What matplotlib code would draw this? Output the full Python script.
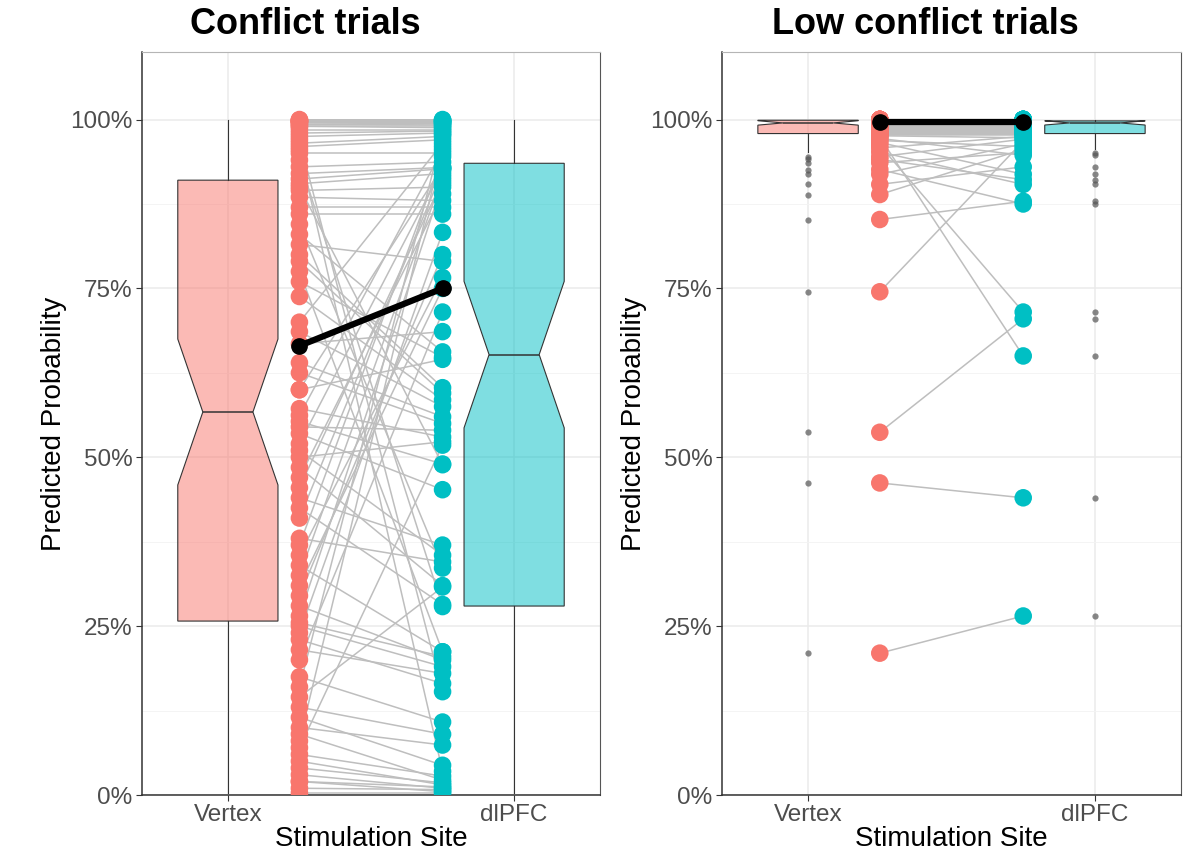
import numpy as np
import matplotlib
matplotlib.use("Agg")
import matplotlib.pyplot as plt
from matplotlib.colors import to_rgba
from matplotlib.ticker import FuncFormatter

plt.rcParams['font.family'] = ['Liberation Sans', 'DejaVu Sans']

sites = ["Vertex", "dlPFC"]
red = "#F8766D"
cyan = "#00BFC4"

# conflict trials: one value per participant, same order in both lists
vertex_conflict = [0.003, 0.01, 0.02, 0.02, 0.03, 0.04, 0.05, 0.06, 0.07, 0.08,
                   0.09, 0.10, 0.115, 0.13, 0.145, 0.16, 0.175, 0.20, 0.215, 0.23,
                   0.24, 0.25, 0.255, 0.265, 0.28, 0.295, 0.31, 0.325, 0.34, 0.355,
                   0.37, 0.38, 0.41, 0.425, 0.44, 0.455, 0.47, 0.485, 0.50, 0.51,
                   0.52, 0.535, 0.545, 0.553, 0.562, 0.572, 0.60, 0.60, 0.625, 0.64,
                   0.668, 0.686, 0.70, 0.738, 0.76, 0.775, 0.79, 0.80, 0.815, 0.83,
                   0.845, 0.86, 0.87, 0.885, 0.895, 0.90, 0.905, 0.912, 0.92, 0.93,
                   0.94, 0.95, 0.955, 0.96, 0.965, 0.97, 0.975, 0.98, 0.985, 0.99,
                   0.99, 0.993, 0.995, 0.996, 0.997, 0.998, 0.998, 0.999, 0.999, 1.0]
dlpfc_conflict = [0.003, 0.008, 0.005, 0.012, 0.01, 0.018, 0.015, 0.028, 0.518, 0.96,
                  0.022, 0.074, 0.044, 0.09, 0.308, 0.978, 0.108, 0.715, 0.18, 0.165,
                  0.833, 0.19, 0.205, 0.905, 0.2, 0.80, 0.75, 0.915, 0.212, 0.766,
                  0.945, 0.345, 0.925, 0.282, 0.37, 0.91, 0.89, 0.31, 0.523, 0.355,
                  0.928, 0.452, 0.54, 0.49, 0.955, 0.53, 0.645, 0.93, 0.55, 0.56,
                  0.686, 0.575, 0.965, 0.585, 0.648, 0.212, 0.595, 0.603, 0.79, 0.656,
                  0.336, 0.86, 0.87, 0.88, 0.90, 0.489, 0.92, 0.927, 0.929, 0.937,
                  0.279, 0.95, 0.035, 0.97, 0.975, 0.153, 0.98, 0.983, 0.985, 0.988,
                  0.99, 0.992, 0.994, 0.995, 0.996, 0.997, 0.998, 0.999, 0.999, 1.0]
mean_conflict = [0.665, 0.75]

# low conflict trials
vertex_low = [0.21, 0.462, 0.537, 0.745, 0.852, 0.889, 0.904, 0.919, 0.926, 0.936,
              0.941, 0.945, 0.952, 0.958, 0.962, 0.966, 0.969, 0.972, 0.974, 0.976,
              0.977, 0.978, 0.979, 0.98, 0.981, 0.982, 0.983, 0.984, 0.985, 0.986,
              0.987, 0.988, 0.989, 0.99, 0.99, 0.991, 0.991, 0.992, 0.992, 0.993,
              0.993, 0.994, 0.994, 0.995, 0.995, 0.995, 0.996, 0.996, 0.996, 0.996,
              0.996, 0.997, 0.997, 0.997, 0.997, 0.997, 0.997, 0.998, 0.998, 0.998,
              0.998, 0.998, 0.998, 0.999, 0.999, 0.999, 0.999, 0.999, 0.999, 0.999,
              0.999, 0.999, 0.999, 0.999, 0.999, 0.999, 1.0, 1.0, 1.0, 1.0,
              1.0, 1.0, 1.0, 1.0, 1.0, 1.0, 1.0, 1.0, 1.0, 1.0]
dlpfc_low = [0.265, 0.44, 0.705, 0.968, 0.879, 0.956, 0.93, 0.964, 0.875, 0.951,
             0.911, 0.971, 0.904, 0.975, 0.715, 0.919, 0.96, 0.947, 0.65, 0.973,
             0.977, 0.978, 0.979, 0.98, 0.981, 0.982, 0.983, 0.984, 0.985, 0.986,
             0.987, 0.988, 0.989, 0.99, 0.99, 0.991, 0.991, 0.992, 0.992, 0.993,
             0.993, 0.994, 0.994, 0.995, 0.995, 0.995, 0.996, 0.996, 0.996, 0.996,
             0.996, 0.997, 0.997, 0.997, 0.997, 0.997, 0.997, 0.998, 0.998, 0.998,
             0.998, 0.998, 0.998, 0.998, 0.998, 0.998, 0.998, 0.998, 0.999, 0.999,
             0.999, 0.999, 0.999, 0.999, 0.999, 0.999, 1.0, 1.0, 1.0, 1.0,
             1.0, 1.0, 1.0, 1.0, 1.0, 1.0, 1.0, 1.0, 1.0, 1.0]
mean_low = [0.997, 0.997]


def draw_panel(ax, vertex, dlpfc, means):
    bp = ax.boxplot([vertex, dlpfc], positions=[1, 2], widths=0.35, notch=True,
                    patch_artist=True, showcaps=False, whis=1.5, tick_labels=sites,
                    boxprops=dict(edgecolor='#333333', linewidth=0.8),
                    medianprops=dict(color='#333333', linewidth=1.1),
                    whiskerprops=dict(color='#333333', linewidth=0.8),
                    flierprops=dict(marker='o', markersize=4.5, markerfacecolor='#555555',
                                    markeredgecolor='none', alpha=0.7),
                    zorder=2)
    for patch, c in zip(bp['boxes'], [red, cyan]):
        patch.set_facecolor(to_rgba(c, 0.5))

    # paired lines, one per participant
    for v, d in zip(vertex, dlpfc):
        ax.plot([1.25, 1.75], [v, d], color='#BEBEBE', lw=1.1, zorder=3)
    ax.scatter(np.full(len(vertex), 1.25), vertex, s=160, color=red, edgecolors='none', zorder=4)
    ax.scatter(np.full(len(dlpfc), 1.75), dlpfc, s=160, color=cyan, edgecolors='none', zorder=4)
    ax.plot([1.25, 1.75], means, color='black', lw=4.5, marker='o', markersize=11, zorder=5)

    ax.set_xlim(0.7, 2.3)
    ax.set_ylim(0, 1.1)
    ax.set_yticks([0, 0.25, 0.5, 0.75, 1.0])
    ax.set_yticks([0.125, 0.375, 0.625, 0.875], minor=True)
    ax.yaxis.set_major_formatter(FuncFormatter(lambda y, _: f"{y * 100:.0f}%"))
    ax.set_axisbelow(True)
    ax.grid(True, which='major', color='#EBEBEB', lw=1.1)
    ax.grid(True, which='minor', axis='y', color='#F3F3F3', lw=0.6)
    ax.tick_params(which='minor', length=0)
    ax.tick_params(which='major', length=4.3, width=0.8, color='#333333',
                   labelsize=17.5, labelcolor='#4D4D4D', pad=2.5)
    ax.set_xlabel("Stimulation Site", fontsize=20, labelpad=0)
    ax.set_ylabel("Predicted Probability", fontsize=20, labelpad=2)
    for side in ['left', 'bottom']:
        ax.spines[side].set_color('#333333')
        ax.spines[side].set_linewidth(1.1)
    ax.spines['right'].set_color('#555555')
    ax.spines['right'].set_linewidth(0.8)
    ax.spines['top'].set_color('#B5B5B5')
    ax.spines['top'].set_linewidth(0.8)


fig = plt.figure(figsize=(11.84, 8.58), dpi=100)
W, H = 1184, 858
ax1 = fig.add_axes([142 / W, 1 - 795 / H, (600 - 142) / W, (795 - 52) / H])
ax2 = fig.add_axes([722 / W, 1 - 795 / H, (1181 - 722) / W, (795 - 52) / H])

draw_panel(ax1, vertex_conflict, dlpfc_conflict, mean_conflict)
draw_panel(ax2, vertex_low, dlpfc_low, mean_low)

fig.text(305 / W, 1 - 24 / H, "Conflict trials", fontsize=26, fontweight='bold',
         ha='center', va='center')
fig.text(925 / W, 1 - 24 / H, "Low conflict trials", fontsize=26, fontweight='bold',
         ha='center', va='center')

fig.savefig("out.png", dpi=100)
